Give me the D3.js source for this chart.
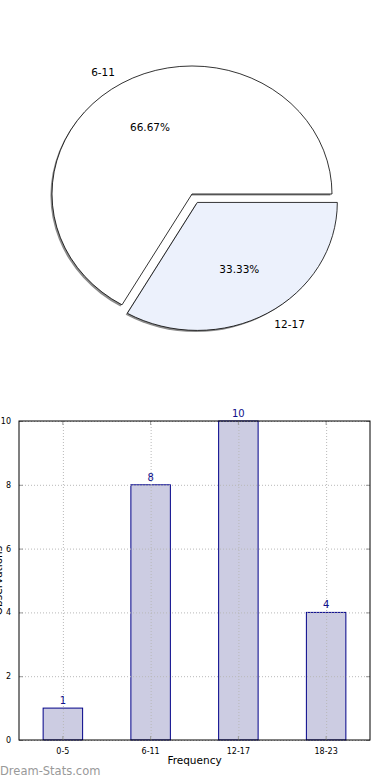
<!DOCTYPE html>
<html>
<head>
<meta charset="utf-8">
<script src="https://cdn.jsdelivr.net/npm/d3@7"></script>
<style>
  body { margin: 0; background: #fff; }
  svg { display: block; font-family: "DejaVu Sans", sans-serif; }
</style>
</head>
<body>
<div id="chart"></div>
<script>
// Pie data
const pieLabels = ["6-11", "12-17"];
const pieValues = [66.67, 33.33];
const pieExplode = [0, 0.076];
const pieColors = ["#ffffff", "#ecf1fc"];

// Bar data
const barCategories = ["0-5", "6-11", "12-17", "18-23"];
const barValues = [1, 8, 10, 4];
const yTicks = [0, 2, 4, 6, 8, 10];

const W = 390, H = 780;
const svg = d3.select("#chart").append("svg").attr("width", W).attr("height", H);

// ---------- Pie ----------
const cx = 192, cy = 194, rx = 140, ry = 128;

const pie = d3.pie().sort(null).startAngle(Math.PI / 2).endAngle(Math.PI / 2 - 2 * Math.PI);
const arc = d3.arc().innerRadius(0).outerRadius(1);
const slices = pie(pieValues);

const pos = (d, i, k) => {
  const a = (d.startAngle + d.endAngle) / 2;
  const e = pieExplode[i];
  return [
    cx + (e + k) * rx * Math.sin(a),
    cy - (e + k) * ry * Math.cos(a)
  ];
};

const pieG = svg.append("g");

// Shadows
pieG.selectAll(".shadow")
  .data(slices)
  .join("path")
  .attr("class", "shadow")
  .attr("transform", (d, i) => {
    const [x, y] = pos(d, i, 0);
    return `translate(${x - 1.6},${y + 1.6}) scale(${rx},${ry})`;
  })
  .attr("d", arc)
  .attr("fill", "#8c8c8c");

// Slices
pieG.selectAll(".slice")
  .data(slices)
  .join("path")
  .attr("class", "slice")
  .attr("transform", (d, i) => {
    const [x, y] = pos(d, i, 0);
    return `translate(${x},${y}) scale(${rx},${ry})`;
  })
  .attr("d", arc)
  .attr("fill", (d, i) => pieColors[i])
  .attr("stroke", "#000")
  .attr("stroke-width", 0.8)
  .attr("vector-effect", "non-scaling-stroke");

// Labels
pieG.selectAll(".plabel")
  .data(slices)
  .join("text")
  .attr("class", "plabel")
  .attr("x", (d, i) => pos(d, i, 1.1)[0])
  .attr("y", (d, i) => pos(d, i, 1.1)[1])
  .attr("dy", "0.35em")
  .attr("text-anchor", (d) => Math.sin((d.startAngle + d.endAngle) / 2) < 0 ? "end" : "start")
  .attr("font-size", "10.5px")
  .attr("fill", "#000")
  .text((d, i) => pieLabels[i]);

pieG.selectAll(".pct")
  .data(slices)
  .join("text")
  .attr("class", "pct")
  .attr("x", (d, i) => pos(d, i, 0.6)[0])
  .attr("y", (d, i) => pos(d, i, 0.6)[1])
  .attr("dy", "0.35em")
  .attr("text-anchor", "middle")
  .attr("font-size", "10.5px")
  .attr("fill", "#000")
  .text((d) => d.data.toFixed(2) + "%");

// ---------- Bars ----------
const margin = { top: 421, left: 19 };
const bw = 351, bh = 319;

const g = svg.append("g").attr("transform", `translate(${margin.left},${margin.top})`);

const x = d3.scaleBand()
  .domain(barCategories)
  .range([0, bw])
  .paddingInner(0.55)
  .paddingOuter(0.275);

const y = d3.scaleLinear().domain([0, 10]).range([bh, 0]);

// Bars
g.selectAll(".bar")
  .data(barValues)
  .join("rect")
  .attr("class", "bar")
  .attr("x", (d, i) => x(barCategories[i]))
  .attr("y", (d) => y(d))
  .attr("width", x.bandwidth())
  .attr("height", (d) => bh - y(d))
  .attr("fill", "#cccce2")
  .attr("stroke", "#000088")
  .attr("stroke-width", 1);

// Grid
g.append("g")
  .selectAll("line")
  .data(yTicks)
  .join("line")
  .attr("x1", 0).attr("x2", bw)
  .attr("y1", (d) => y(d) + 0.5).attr("y2", (d) => y(d) + 0.5)
  .attr("stroke", "#b8b8b8")
  .attr("stroke-dasharray", "1,2");

g.append("g")
  .selectAll("line")
  .data(barCategories)
  .join("line")
  .attr("x1", (d) => x(d) + x.bandwidth() / 2 + 0.5)
  .attr("x2", (d) => x(d) + x.bandwidth() / 2 + 0.5)
  .attr("y1", 0).attr("y2", bh)
  .attr("stroke", "#b8b8b8")
  .attr("stroke-dasharray", "1,2");

// Value labels
g.selectAll(".vlabel")
  .data(barValues)
  .join("text")
  .attr("class", "vlabel")
  .attr("x", (d, i) => x(barCategories[i]) + x.bandwidth() / 2)
  .attr("y", (d) => y(d) - 4)
  .attr("text-anchor", "middle")
  .attr("font-size", "10px")
  .attr("fill", "#10108a")
  .text((d) => d);

// Axes
const styleAxis = (sel) => {
  sel.select(".domain").remove();
  sel.selectAll("line").attr("stroke", "#999");
  sel.selectAll("text").attr("fill", "#000").attr("font-size", "8px").attr("font-family", "DejaVu Sans, sans-serif");
};

g.append("g")
  .call(d3.axisLeft(y).tickValues(yTicks).tickSize(-4).tickPadding(8))
  .call(styleAxis);

g.append("g")
  .attr("transform", `translate(${bw},0)`)
  .call(d3.axisRight(y).tickValues(yTicks).tickSize(-4).tickFormat(""))
  .call(styleAxis);

g.append("g")
  .attr("transform", `translate(0,${bh})`)
  .call(d3.axisBottom(x).tickSize(-4).tickPadding(8))
  .call(styleAxis);

g.append("g")
  .call(d3.axisTop(x).tickSize(-4).tickFormat(""))
  .call(styleAxis);

// Frame
g.append("rect")
  .attr("x", 0).attr("y", 0)
  .attr("width", bw).attr("height", bh)
  .attr("fill", "none")
  .attr("stroke", "#000")
  .attr("stroke-width", 1);

// Axis labels
g.append("text")
  .attr("x", bw / 2)
  .attr("y", bh + 24)
  .attr("text-anchor", "middle")
  .attr("font-size", "10.5px")
  .text("Frequency");

// y label sits mostly past the left edge, as in the original
g.append("text")
  .attr("transform", `translate(${-17},${bh / 2}) rotate(-90)`)
  .attr("text-anchor", "middle")
  .attr("font-size", "10.5px")
  .text("Observations");

// Watermark
svg.append("text")
  .attr("x", 0)
  .attr("y", 775)
  .attr("font-size", "11.5px")
  .attr("fill", "#999")
  .text("Dream-Stats.com");
</script>
</body>
</html>
